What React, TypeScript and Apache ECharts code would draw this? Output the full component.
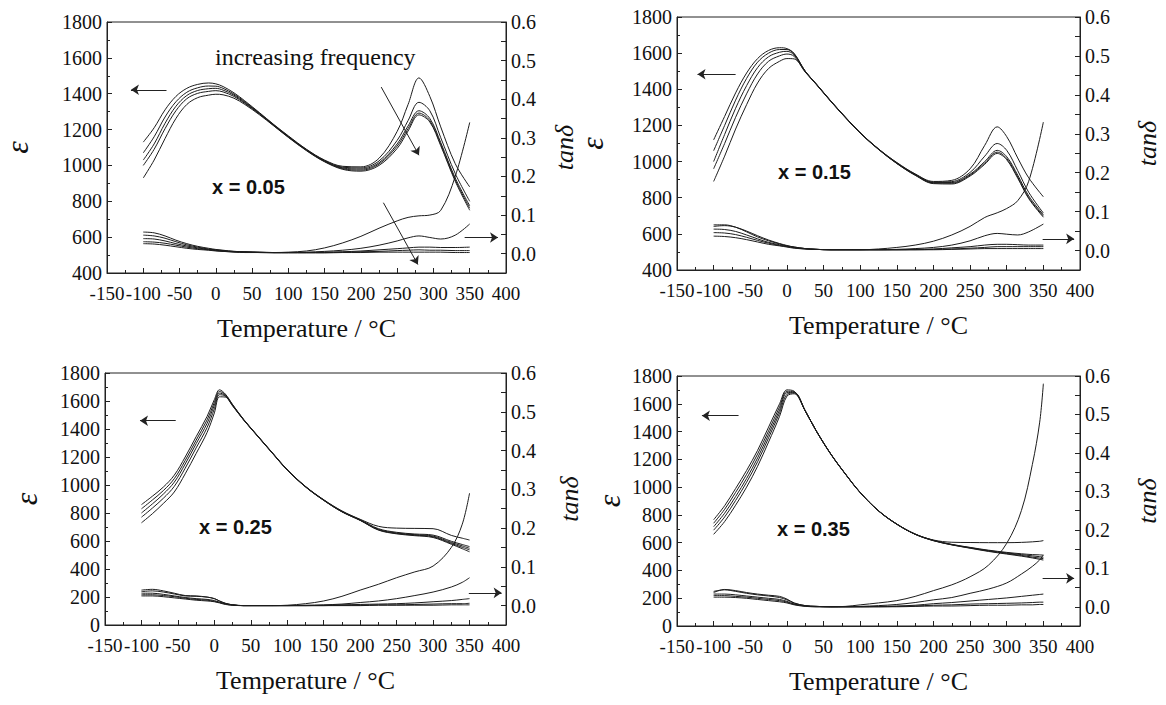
import React, { useEffect, useRef } from "react";
import * as echarts from "echarts";

const FONT = "'Liberation Serif','Times New Roman',serif";
const INK = "#1c1c1c";

// ---------- Panel 1 (x = 0.05) ----------
const tempP1 = [-100,-85,-70,-55,-40,-25,-10,0,10,25,40,60,80,100,125,150,175,200,225,250,265,280,295,310,330,350];
const epsP1 = [
  [1130,1210,1310,1385,1430,1452,1460,1455,1440,1405,1360,1295,1228,1165,1090,1030,995,992,1040,1190,1340,1488,1385,1215,1010,880],
  [1070,1160,1270,1355,1408,1433,1443,1442,1430,1398,1355,1292,1226,1162,1088,1027,990,986,1025,1140,1250,1352,1305,1155,955,800],
  [1030,1120,1235,1330,1390,1418,1428,1430,1420,1392,1350,1290,1224,1160,1086,1024,986,980,1015,1120,1220,1305,1262,1128,930,775],
  [1000,1090,1205,1305,1372,1402,1413,1417,1410,1385,1346,1287,1222,1158,1084,1022,982,974,1008,1108,1205,1292,1250,1118,920,762],
  [930,1030,1150,1262,1340,1378,1392,1397,1394,1375,1340,1283,1220,1156,1082,1020,978,968,1000,1095,1192,1282,1242,1110,912,750],
];
const tanP1 = [
  [.056,.054,.046,.035,.026,.019,.014,.011,.009,.006,.005,.004,.003,.004,.007,.015,.028,.045,.066,.085,.094,.098,.100,.112,.200,.340],
  [.048,.046,.040,.031,.023,.017,.012,.010,.008,.006,.005,.004,.003,.003,.004,.006,.009,.014,.022,.033,.041,.046,.042,.038,.048,.077],
  [.039,.038,.033,.026,.020,.015,.011,.009,.007,.005,.004,.003,.003,.003,.003,.004,.005,.007,.010,.013,.015,.017,.017,.016,.016,.017],
  [.031,.030,.027,.022,.017,.013,.010,.008,.006,.005,.004,.003,.003,.003,.003,.003,.004,.005,.006,.008,.009,.010,.009,.009,.008,.008],
  [.026,.025,.022,.018,.014,.011,.009,.007,.006,.004,.003,.003,.002,.002,.002,.002,.003,.003,.004,.004,.004,.004,.004,.004,.003,.003],
];

// ---------- Panel 2 (x = 0.15) ----------
const tempP2 = [-100,-85,-70,-55,-40,-25,-10,0,10,25,40,60,80,100,125,150,175,200,225,250,270,287,300,315,330,350];
const epsP2 = [
  [1120,1250,1380,1490,1570,1615,1630,1625,1598,1500,1430,1335,1245,1160,1070,995,932,890,896,960,1090,1192,1138,1020,910,805],
  [1060,1200,1340,1460,1550,1600,1620,1620,1595,1500,1430,1335,1245,1160,1070,993,930,886,889,940,1030,1100,1062,950,830,715],
  [1000,1150,1295,1420,1520,1580,1605,1610,1590,1499,1429,1334,1244,1159,1069,991,928,883,884,930,1000,1062,1027,925,810,705],
  [960,1100,1245,1375,1485,1555,1585,1595,1582,1497,1428,1333,1243,1158,1068,990,926,881,880,925,992,1052,1017,915,800,698],
  [890,1030,1180,1315,1435,1515,1555,1570,1568,1495,1427,1332,1242,1157,1067,989,924,878,876,920,985,1045,1010,908,795,692],
];
const tanP2 = [
  [.062,.064,.060,.050,.038,.027,.018,.013,.009,.005,.003,.002,.002,.002,.004,.008,.014,.024,.040,.062,.085,.097,.108,.128,.178,.330],
  [.066,.066,.060,.048,.035,.025,.017,.012,.009,.005,.003,.002,.002,.002,.002,.003,.005,.008,.014,.025,.038,.044,.042,.040,.048,.068],
  [.055,.054,.049,.040,.030,.021,.015,.011,.008,.005,.003,.002,.002,.002,.002,.002,.003,.004,.007,.010,.014,.016,.016,.015,.014,.014],
  [.046,.045,.041,.034,.026,.019,.013,.010,.007,.004,.003,.002,.002,.002,.002,.002,.002,.003,.004,.006,.008,.010,.010,.010,.010,.010],
  [.037,.036,.033,.028,.022,.016,.012,.009,.006,.004,.003,.002,.002,.002,.002,.002,.002,.002,.003,.004,.005,.005,.005,.005,.005,.005],
];

// ---------- Panel 3 (x = 0.25) ----------
const tempP3 = [-100,-85,-70,-55,-40,-25,-10,0,7,15,25,40,60,80,100,125,150,175,200,225,250,275,300,325,340,350];
const epsP3 = [
  [860,920,985,1070,1200,1345,1490,1610,1680,1650,1575,1470,1348,1228,1110,990,895,815,755,705,692,690,688,640,620,607],
  [830,893,960,1045,1175,1320,1465,1590,1668,1645,1572,1468,1347,1227,1109,989,893,812,752,688,662,650,642,598,575,560],
  [800,865,935,1020,1150,1295,1440,1570,1656,1640,1570,1467,1346,1226,1108,988,892,810,749,683,657,645,635,590,565,548],
  [770,835,905,990,1120,1265,1410,1545,1645,1635,1568,1466,1345,1225,1107,987,891,809,748,680,654,642,630,583,555,537],
  [730,795,868,950,1080,1225,1375,1515,1630,1628,1565,1465,1344,1224,1106,986,890,808,747,678,651,638,625,577,545,523],
];
const tanP3 = [
  [.036,.038,.035,.030,.025,.024,.022,.018,.012,.006,.002,.000,.000,.000,.001,.005,.012,.024,.040,.055,.072,.087,.102,.150,.210,.290],
  [.040,.042,.038,.032,.026,.025,.022,.018,.012,.006,.002,.000,.000,.000,.000,.001,.002,.004,.008,.012,.018,.026,.035,.048,.060,.072],
  [.032,.032,.029,.025,.021,.018,.016,.013,.009,.005,.002,.000,.000,.000,.000,.000,.001,.002,.003,.004,.005,.007,.010,.013,.016,.018],
  [.028,.028,.026,.023,.019,.016,.014,.011,.008,.004,.001,.000,.000,.000,.000,.000,.000,.001,.001,.002,.002,.003,.004,.005,.005,.006],
  [.025,.025,.023,.020,.017,.014,.012,.010,.007,.003,.001,.000,.000,.000,.000,.000,.000,.000,.000,.001,.001,.001,.001,.002,.002,.002],
];

// ---------- Panel 4 (x = 0.35) ----------
const tempP4 = [-100,-85,-70,-55,-40,-25,-10,0,10,25,40,60,80,100,125,150,175,200,225,250,275,300,320,335,345,350];
const epsP4 = [
  [765,866,990,1120,1265,1432,1600,1700,1690,1550,1406,1238,1094,962,830,734,662,619,603,601,600,600,602,606,610,615],
  [740,840,962,1092,1238,1405,1578,1690,1686,1550,1406,1238,1094,962,830,734,662,617,588,566,546,530,520,514,512,510],
  [715,812,932,1062,1210,1380,1556,1680,1682,1550,1405,1237,1093,961,829,733,661,616,586,564,543,526,514,505,499,495],
  [690,785,904,1035,1183,1355,1535,1668,1678,1549,1405,1237,1093,961,829,733,661,615,585,562,540,522,508,496,489,485],
  [660,752,870,1000,1150,1325,1510,1655,1672,1548,1404,1236,1092,960,828,732,660,614,584,560,537,518,503,490,480,475],
];
const tanP4 = [
  [.037,.045,.042,.037,.033,.030,.027,.020,.010,.003,.001,.000,.001,.005,.010,.016,.027,.042,.057,.078,.108,.165,.250,.370,.480,.580],
  [.040,.044,.040,.035,.031,.028,.024,.018,.009,.003,.001,.000,.000,.001,.003,.006,.011,.018,.024,.035,.046,.062,.085,.105,.122,.135],
  [.033,.033,.031,.028,.025,.022,.019,.014,.007,.002,.001,.000,.000,.000,.001,.002,.004,.008,.011,.015,.019,.023,.027,.030,.032,.033],
  [.029,.029,.027,.025,.022,.019,.016,.012,.006,.002,.000,.000,.000,.000,.000,.001,.002,.004,.005,.007,.008,.009,.010,.011,.012,.012],
  [.025,.025,.024,.022,.019,.016,.013,.010,.005,.001,.000,.000,.000,.000,.000,.000,.001,.002,.002,.003,.004,.004,.005,.005,.006,.006],
];

// Annotation arrows (data coordinates: [T, value])
const epsArrows = [
  [[[-68, 1422], [-117, 1422]], [[228, 1437], [280, 1057]]],
  [[[-70, 1483], [-122, 1483]]],
  [[[-53, 1459], [-102, 1459]]],
  [[[-66, 1514], [-116, 1514]]],
];
const tanArrows = [
  [[[343, 0.042], [389, 0.042]], [[231, 0.132], [278.5, -0.028]]],
  [[[349, 0.03], [392, 0.03]]],
  [[[349, 0.033], [394, 0.033]]],
  [[[349, 0.074], [392, 0.074]]],
];

const compositions = ["x = 0.05", "x = 0.15", "x = 0.25", "x = 0.35"];
const epsMins = [400, 400, 0, 0];

const panels = [
  { temps: tempP1, eps: epsP1, tan: tanP1 },
  { temps: tempP2, eps: epsP2, tan: tanP2 },
  { temps: tempP3, eps: epsP3, tan: tanP3 },
  { temps: tempP4, eps: epsP4, tan: tanP4 },
];

// layout (pixels)
const GRIDS = [
  { left: 103, top: 22, width: 403, height: 251 },
  { left: 677, top: 17, width: 403, height: 253 },
  { left: 105, top: 373, width: 401, height: 252 },
  { left: 677, top: 376, width: 403, height: 250 },
];
const EPS_GAP = [74, 69, 63, 52];
const TAN_GAP = [45, 54, 50, 54];
const COMP_POS = [
  [212, 177], [778, 162], [199, 517], [777, 519],
];

function buildOption() {
  const axisLineStyle = { color: "#222", width: 1 };
  const labelStyle = { color: "#111", fontSize: 19, fontFamily: FONT };
  const grid: any[] = [];
  const xAxis: any[] = [];
  const yAxis: any[] = [];
  const series: any[] = [];

  GRIDS.forEach((g, i) => {
    grid.push({ ...g, show: true, borderColor: "#222", borderWidth: 1, backgroundColor: "transparent", containLabel: false });
    xAxis.push({
      type: "value", gridIndex: i, min: -150, max: 400, interval: 50,
      axisLine: { show: true, onZero: false, lineStyle: axisLineStyle },
      axisTick: { show: true, inside: true, length: 5, lineStyle: axisLineStyle },
      minorTick: { show: true, splitNumber: 2, length: 3, lineStyle: axisLineStyle },
      splitLine: { show: false },
      axisLabel: {
        ...labelStyle, margin: 11, showMinLabel: true, showMaxLabel: true, hideOverlap: false,
        formatter: (v: number) => String(v),
      },
      name: "Temperature / °C", nameLocation: "middle", nameGap: 42,
      nameTextStyle: { fontSize: 26, fontFamily: FONT, color: "#111" },
    });
    yAxis.push({
      type: "value", gridIndex: i, position: "left", min: epsMins[i], max: 1800, interval: 200,
      axisLine: { show: true, onZero: false, lineStyle: axisLineStyle },
      axisTick: { show: true, inside: true, length: 5, lineStyle: axisLineStyle },
      minorTick: { show: true, splitNumber: 2, length: 3, lineStyle: axisLineStyle },
      splitLine: { show: false },
      axisLabel: { ...labelStyle, fontSize: 20, margin: 5, showMinLabel: true, showMaxLabel: true, formatter: (v: number) => String(v) },
      name: "ε", nameLocation: "middle", nameGap: EPS_GAP[i], nameRotate: 90,
      nameTextStyle: { fontSize: 32, fontStyle: "italic", fontFamily: FONT, color: "#111" },
    });
    yAxis.push({
      type: "value", gridIndex: i, position: "right", min: -0.05, max: 0.6, interval: 0.05,
      axisLine: { show: true, onZero: false, lineStyle: axisLineStyle },
      axisTick: { show: true, inside: true, length: 5, lineStyle: axisLineStyle },
      splitLine: { show: false },
      axisLabel: {
        ...labelStyle, fontSize: 20, margin: 5, showMinLabel: true, showMaxLabel: true,
        formatter: (v: number) => {
          const r = Math.round(v * 100);
          if (r < 0 || r % 10 !== 0) return "";
          return (r / 100).toFixed(1);
        },
      },
      name: "tanδ", nameLocation: "middle", nameGap: TAN_GAP[i], nameRotate: 90,
      nameTextStyle: { fontSize: 26, fontStyle: "italic", fontFamily: FONT, color: "#111" },
    });

    const p = panels[i];
    const mkLine = (arrows: number[][][]) => ({
      silent: true,
      symbol: ["none", "arrow"],
      symbolSize: 8,
      label: { show: false },
      lineStyle: { color: "#222", width: 1, type: "solid" },
      data: arrows.map((a) => [{ coord: a[0] }, { coord: a[1] }]),
    });
    p.eps.forEach((vals, k) => {
      series.push({
        type: "line", name: `eps-${i}-${k}`, xAxisIndex: i, yAxisIndex: 2 * i,
        data: p.temps.map((t, j) => [t, vals[j]]),
        symbol: "none", showSymbol: false, smooth: 0.35, silent: true,
        lineStyle: { width: 1, color: INK },
        ...(k === 0 ? { markLine: mkLine(epsArrows[i]) } : {}),
      });
    });
    p.tan.forEach((vals, k) => {
      series.push({
        type: "line", name: `tan-${i}-${k}`, xAxisIndex: i, yAxisIndex: 2 * i + 1,
        data: p.temps.map((t, j) => [t, vals[j]]),
        symbol: "none", showSymbol: false, smooth: 0.35, silent: true,
        lineStyle: { width: 1, color: INK },
        ...(k === 0 ? { markLine: mkLine(tanArrows[i]) } : {}),
      });
    });
  });

  const graphic: any[] = compositions.map((txt, i) => ({
    type: "text", left: COMP_POS[i][0], top: COMP_POS[i][1], silent: true,
    style: { text: txt, fontSize: 20, fontWeight: "bold", fontFamily: "'Liberation Sans', Arial, sans-serif", fill: "#111" },
  }));
  graphic.push({
    type: "text", left: 215, top: 45, silent: true,
    style: { text: "increasing frequency", fontSize: 24, fontFamily: FONT, fill: "#111" },
  });

  return {
    animation: false,
    backgroundColor: "#ffffff",
    textStyle: { fontFamily: FONT },
    grid, xAxis, yAxis, series, graphic,
  };
}

export default function App() {
  const ref = useRef<HTMLDivElement>(null);
  useEffect(() => {
    if (!ref.current) return;
    const chart = echarts.init(ref.current, undefined, { renderer: "svg" });
    chart.setOption(buildOption() as any);
    return () => chart.dispose();
  }, []);
  return (
    <div
      ref={ref}
      style={{ position: "absolute", left: 0, top: 0, width: 1166, height: 705, background: "#fff" }}
    />
  );
}
